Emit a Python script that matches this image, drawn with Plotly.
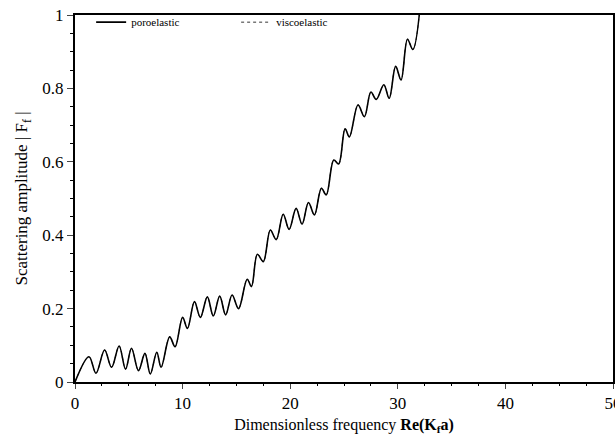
import plotly.graph_objects as go

# Dimensionless frequency Re(K_f a) and scattering amplitude |F_f| (extrema of the curve)
freq = [0, 1.3, 1.95, 2.75, 3.4, 4.1, 4.7, 5.25, 5.9, 6.5, 7.0, 7.6, 8.0, 8.8, 9.3,
        10.0, 10.45, 11.1, 11.65, 12.3, 12.85, 13.45, 14.0, 14.6, 15.2, 16.0, 16.4,
        16.95, 17.5, 18.15, 18.7, 19.35, 19.9, 20.55, 21.1, 21.7, 22.25, 22.9, 23.35,
        24.05, 24.5, 25.1, 25.5, 26.3, 26.9, 27.5, 28.0, 28.7, 29.2, 29.8, 30.3,
        30.9, 31.4, 32.3]
poroelastic = [0, 0.069, 0.024, 0.087, 0.040, 0.098, 0.035, 0.092, 0.031, 0.078, 0.022,
               0.081, 0.040, 0.123, 0.096, 0.176, 0.146, 0.219, 0.176, 0.232, 0.18,
               0.234, 0.183, 0.237, 0.20, 0.28, 0.26, 0.348, 0.328, 0.414, 0.388,
               0.457, 0.416, 0.473, 0.43, 0.489, 0.455, 0.528, 0.51, 0.605, 0.594,
               0.69, 0.668, 0.755, 0.723, 0.79, 0.77, 0.81, 0.773, 0.86, 0.823,
               0.934, 0.906, 1.1]
# viscoelastic curve coincides with the poroelastic one in the picture
viscoelastic = list(poroelastic)

x_ticks = [0, 10, 20, 30, 40, 50]
y_ticks = [0, 0.2, 0.4, 0.6, 0.8, 1]
y_tick_labels = ["0", "0.2", "0.4", "0.6", "0.8", "1"]

FONT = "Liberation Serif, Times New Roman, serif"

fig = go.Figure()
fig.add_trace(go.Scatter(x=freq, y=poroelastic, mode="lines", name="poroelastic",
                         line=dict(color="black", width=1.6, shape="spline", smoothing=1.0)))
fig.add_trace(go.Scatter(x=freq, y=viscoelastic, mode="lines", name="viscoelastic",
                         line=dict(color="black", width=0.8, dash="dot", shape="spline", smoothing=1.0)))

fig.update_layout(
    width=615, height=438,
    margin=dict(l=75, r=2, t=15, b=56, autoexpand=False),
    paper_bgcolor="white", plot_bgcolor="white",
    font=dict(family=FONT, color="black", size=15),
    showlegend=True,
    legend=dict(orientation="h", x=0.03, y=1.02, xanchor="left", yanchor="top",
                font=dict(family=FONT, size=11), bgcolor="rgba(0,0,0,0)",
                itemwidth=30, entrywidth=100, tracegroupgap=0),
    xaxis=dict(range=[0, 50], tickvals=x_ticks, ticks="outside", ticklen=5, tickwidth=1,
               showline=True, linecolor="black", linewidth=2, mirror=True,
               showgrid=False, zeroline=False, tickfont=dict(size=17),
               ticklabeloverflow="allow", automargin=False,
               minor=dict(dtick=2.5, ticks="outside", ticklen=2, tickcolor="black"),
               title=dict(text="Dimensionless frequency <b>Re(K<sub>f</sub>a)</b>",
                          font=dict(size=16), standoff=6)),
    yaxis=dict(range=[0, 1], tickvals=y_ticks, ticktext=y_tick_labels, ticks="outside",
               ticklen=6, tickwidth=1, showline=True, linecolor="black", linewidth=2,
               mirror=True, showgrid=False, zeroline=False, tickfont=dict(size=17),
               automargin=False,
               minor=dict(dtick=0.05, ticks="outside", ticklen=3, tickcolor="black"),
               title=dict(text="Scattering amplitude | F<sub>f</sub> |",
                          font=dict(size=17), standoff=10)),
)

fig.write_html("out.html")
